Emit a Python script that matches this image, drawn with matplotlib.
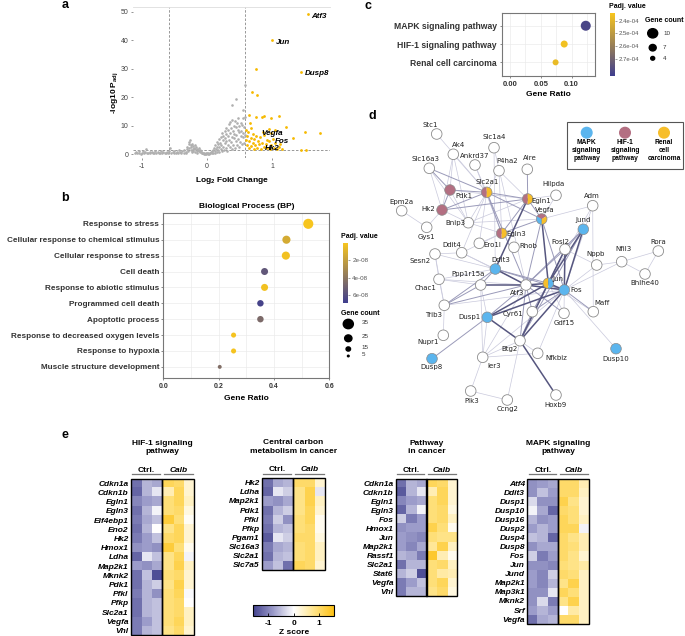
import numpy as np
import matplotlib.pyplot as plt
from matplotlib.colors import LinearSegmentedColormap, Normalize
from matplotlib.patches import Wedge, Rectangle
from matplotlib.lines import Line2D
import matplotlib.cm as cm

W, H = 685, 636
plt.rcParams['font.family'] = ['Liberation Sans', 'DejaVu Sans']

# ---------------- data: volcano (a) ----------------
gray_x = [-1.11, -1.09, -1.07, -1.05, -1.04, -1.02, -1.0, -0.99, -0.97, -0.95, -0.94, -0.92, -0.9, -0.88,
          -0.87, -0.85, -0.83, -0.81, -0.8, -0.78, -0.76, -0.74, -0.72, -0.71, -0.69, -0.67, -0.65, -0.63,
          -0.61, -0.6, -0.58, -0.57, -0.55, -0.53, -0.51, -0.5, -0.48, -0.46, -0.44, -0.43, -0.41, -0.4,
          -0.38, -0.36, -0.35, -0.33, -0.32,
          -0.31, -0.3, -0.29, -0.28, -0.27, -0.27, -0.26, -0.25, -0.25, -0.24, -0.23, -0.23, -0.22, -0.21,
          -0.21, -0.2, -0.19, -0.19, -0.18, -0.17, -0.16, -0.15, -0.15, -0.14, -0.13, -0.12, -0.11, -0.1,
          -0.09, -0.08,
          -0.07, -0.06, -0.05, -0.04, -0.03, -0.02, -0.01, 0.0, 0.01, 0.02, 0.03, 0.04, 0.05, 0.06, 0.07, 0.08,
          0.09, 0.1, 0.11, 0.12, 0.13, 0.13, 0.14, 0.15, 0.15, 0.16, 0.17, 0.17, 0.18, 0.19, 0.19, 0.2, 0.21,
          0.21, 0.22, 0.23, 0.23, 0.24, 0.25, 0.25, 0.26, 0.27, 0.27, 0.28, 0.29, 0.29, 0.3, 0.3, 0.31, 0.32,
          0.32, 0.33, 0.34, 0.34, 0.35, 0.35, 0.36, 0.37, 0.37, 0.38, 0.38, 0.39, 0.4, 0.4, 0.41, 0.41, 0.42,
          0.43, 0.43, 0.44, 0.44, 0.45, 0.46, 0.46, 0.47, 0.48, 0.48, 0.49, 0.5, 0.5, 0.51, 0.52, 0.52, 0.53,
          0.54, 0.54, 0.55, 0.56, 0.56, 0.57, 0.57, 0.58,
          0.38, 0.44, 0.55, 0.58, 0.58]
gray_y = [0.3, 0.6, 0.2, 0.9, 0.4, 0.1, 0.5, 1.1, 0.3, 0.7, 1.6, 0.2, 0.5, 0.8,
          0.3, 0.6, 0.2, 0.4, 0.9, 0.3, 0.6, 0.2, 0.5, 1.0, 0.3, 0.7, 0.2, 0.5,
          0.8, 0.3, 1.2, 2.0, 0.4, 0.7, 0.2, 1.0, 0.5, 0.8, 0.3, 1.3, 0.6, 0.2,
          0.9, 0.4, 1.5, 0.7, 0.3,
          1.8, 2.6, 1.1, 3.4, 4.1, 2.0, 4.8, 3.0, 1.4, 2.4, 3.6, 0.8, 1.9, 2.8,
          1.2, 2.2, 3.1, 0.6, 1.6, 2.5, 1.1, 1.9, 0.5, 1.3, 2.1, 0.9, 1.5, 0.6,
          1.0, 0.4,
          0.2, 0.5, 0.1, 0.3, 0.1, 0.4, 0.1, 0.2, 0.05, 0.3, 0.1, 0.4, 0.2, 0.6, 0.3, 0.9,
          1.5, 0.5, 2.2, 1.0, 3.0, 0.4, 1.8, 4.2, 2.6, 0.8, 3.5, 1.4, 5.2, 2.3, 0.6, 4.0, 6.0,
          1.7, 3.1, 7.2, 0.9, 4.8, 2.5, 6.4, 1.3, 8.0, 3.8, 5.6, 2.0, 7.0, 9.2, 4.4, 1.1, 6.3,
          3.2, 8.6, 10.5, 5.0, 2.4, 7.4, 11.2, 4.1, 9.0, 6.0, 1.6, 12.0, 8.0, 3.3, 10.0, 5.5, 7.0,
          11.5, 2.2, 9.5, 4.6, 6.8, 10.8, 3.0, 8.4, 5.4, 12.5, 7.6, 9.8, 2.5, 4.2, 11.0, 6.2, 8.2,
          3.6, 10.2, 5.8, 7.3, 12.8, 4.0, 9.6, 6.5,
          17.3, 19.2, 15.6, 24.3, 13.0]
up_x = [1.55, 1.0, 1.44, 0.75, 0.69, 0.77, 0.65, 0.76, 0.84, 0.88, 0.98, 1.1, 1.22, 1.51, 1.74, 1.33,
        1.04, 1.45, 1.53, 0.68, 0.66, 0.63, 0.6, 0.61, 0.62, 0.64, 0.65, 0.67, 0.68, 0.7, 0.71, 0.72,
        0.73, 0.74, 0.76, 0.77, 0.79, 0.8, 0.82, 0.83, 0.85, 0.87, 0.88, 0.9, 0.92, 0.93, 0.95, 0.97,
        0.98, 0.99, 1.01, 1.03, 1.05, 1.07, 1.1, 1.12, 0.95, 0.86, 1.15, 0.6]
up_y = [49.0, 40.0, 28.9, 29.8, 21.6, 20.6, 13.7, 12.9, 12.9, 13.3, 12.5, 13.3, 9.6, 7.8, 7.3, 5.7,
        8.4, 1.4, 1.4, 9.0, 11.0, 7.6, 5.0, 3.2, 6.2, 2.0, 4.4, 5.6, 2.8, 7.0, 4.0, 1.8,
        5.2, 3.0, 6.4, 2.2, 4.6, 3.4, 5.8, 1.9, 4.0, 2.6, 6.8, 3.6, 5.0, 2.0, 4.4, 1.6,
        7.4, 3.0, 5.4, 2.2, 4.0, 1.8, 2.6, 3.4, 8.8, 7.8, 1.6, 8.5]
volc_genes = ['Atf3', 'Jun', 'Dusp8', 'Vegfa', 'Fos', 'Hk2']
volc_gx = [1.61, 1.06, 1.51, 0.84, 1.05, 0.89]
volc_gy = [48.3, 39.0, 28.3, 7.3, 4.5, 2.0]

# ---------------- data: GO BP (b) ----------------
bp_terms = ['Response to stress', 'Cellular response to chemical stimulus', 'Cellular response to stress',
            'Cell death', 'Response to abiotic stimulus', 'Programmed cell death', 'Apoptotic process',
            'Response to decreased oxygen levels', 'Response to hypoxia', 'Muscle structure development']
bp_ratio = [0.524, 0.445, 0.443, 0.366, 0.366, 0.351, 0.351, 0.254, 0.254, 0.204]
bp_count = [35, 28, 28, 24, 24, 22, 22, 17, 17, 13]
bp_padj = [0.1e-9, 1.3e-8, 0.2e-8, 5.6e-8, 0.2e-8, 6.6e-8, 4.6e-8, 0.1e-8, 0.1e-8, 4.4e-8]

# ---------------- data: KEGG (c) ----------------
kegg_terms = ['MAPK signaling pathway', 'HIF-1 signaling pathway', 'Renal cell carcinoma']
kegg_ratio = [0.123, 0.088, 0.074]
kegg_count = [10, 7, 6]
kegg_padj = [2.80e-4, 2.36e-4, 2.38e-4]

# ---------------- data: network (d) ----------------
nodes = ['Stc1', 'Ak4', 'Slc1a4', 'Ankrd37', 'P4ha2', 'Aire', 'Slc16a3', 'Pdk1', 'Slc2a1', 'Egln1',
         'Hilpda', 'Epm2a', 'Hk2', 'Adm', 'Vegfa', 'Bnip3', 'Gys1', 'Jund', 'Egln3', 'Ero1l', 'Ddit4',
         'Rhob', 'Fosl2', 'Sesn2', 'Rora', 'Nfil3', 'Nppb', 'Ddit3', 'Bhlhe40', 'Chac1', 'Ppp1r15a',
         'Atf3', 'Jun', 'Fos', 'Trib3', 'Dusp1', 'Cyr61', 'Gdf15', 'Maff', 'Nupr1', 'Btg2', 'Nfkbiz',
         'Dusp10', 'Dusp8', 'Ier3', 'Plk3', 'Ccng2', 'Hoxb9']
node_x = [436.7, 453.3, 494, 475, 499, 527.3, 429.3, 450, 486.7, 527.7, 556, 401.7, 442, 592.7, 541.7,
          468.3, 426.7, 583.3, 501.7, 479.3, 461.7, 514, 565, 435, 658.3, 621.7, 596.7, 495.3, 645,
          439, 480.7, 526, 548.3, 564.3, 444.3, 487.3, 532.3, 564, 593.3, 443.3, 520, 537.7, 616, 432,
          482.7, 470.7, 507.3, 556]
node_y = [134, 154.3, 147.7, 165, 170.7, 169.3, 168.3, 190, 192.3, 199, 195.3, 210.7, 210, 205.7, 219,
          222.7, 227.3, 229.3, 233.3, 243.3, 252.7, 247.3, 249.3, 254, 251, 261.7, 265, 269, 274,
          279.3, 285, 285, 283.3, 290, 305.3, 317.3, 311.7, 313.3, 311.7, 335.3, 340.7, 353.3, 348.7,
          358.7, 357.3, 391, 400, 395]
label_x = [430.7, 458.3, 494, 475, 506.7, 530, 425, 464, 486.7, 541.7, 553.3, 401, 428.3, 592.3, 544.7,
           455, 426.7, 582.7, 516.7, 492.7, 451.7, 528.3, 560, 420, 658.3, 624, 596, 500.7, 645,
           426, 468.3, 516.7, 558.3, 576, 433.3, 470, 513.3, 564, 601.7, 428.3, 509.3, 556, 616, 432,
           494, 471.7, 507.3, 556]
label_y = [125, 145, 137.3, 155.7, 161, 158.3, 159, 195.7, 181.7, 200.7, 184, 201.7, 209, 195.7, 210,
           223.3, 236.7, 220, 234, 245, 245, 246, 241.7, 260.7, 241.7, 249.3, 254.3, 260, 283.3,
           288.3, 274, 292.7, 279.3, 290, 315, 316.7, 314, 322.7, 303.3, 341.7, 349.3, 357.7, 358.7,
           366.7, 366, 401, 409, 405]
node_groups = {'Pdk1': ['hif'], 'Hk2': ['hif'], 'Slc2a1': ['hif', 'renal'], 'Egln1': ['hif', 'renal'],
               'Egln3': ['hif', 'renal'], 'Vegfa': ['mapk', 'hif', 'renal'], 'Jun': ['renal', 'mapk'],
               'Jund': ['mapk'], 'Ddit3': ['mapk'], 'Fos': ['mapk'], 'Dusp1': ['mapk'],
               'Dusp8': ['mapk'], 'Dusp10': ['mapk']}
edges = [('Stc1', 'Slc2a1', 1), ('Ak4', 'Pdk1', 1), ('Ak4', 'Slc2a1', 1), ('Ak4', 'Bnip3', 1), ('Ak4', 'Hk2', 1),
         ('Slc1a4', 'Ddit3', 1), ('Slc1a4', 'Atf3', 1), ('Ankrd37', 'Slc2a1', 1), ('Ankrd37', 'Egln3', 1),
         ('P4ha2', 'Egln1', 1), ('P4ha2', 'Slc2a1', 1), ('P4ha2', 'Egln3', 1), ('Aire', 'Egln1', 2),
         ('Slc16a3', 'Pdk1', 2), ('Slc16a3', 'Hk2', 1), ('Slc16a3', 'Slc2a1', 2), ('Slc16a3', 'Bnip3', 1),
         ('Pdk1', 'Hk2', 2), ('Pdk1', 'Slc2a1', 2), ('Pdk1', 'Bnip3', 1), ('Pdk1', 'Egln1', 1),
         ('Hk2', 'Slc2a1', 2), ('Hk2', 'Gys1', 1), ('Hk2', 'Egln1', 2), ('Hk2', 'Bnip3', 1), ('Epm2a', 'Gys1', 1),
         ('Slc2a1', 'Egln1', 2), ('Slc2a1', 'Vegfa', 2), ('Slc2a1', 'Egln3', 2), ('Slc2a1', 'Bnip3', 1),
         ('Slc2a1', 'Ddit4', 1), ('Slc2a1', 'Ero1l', 1), ('Slc2a1', 'Atf3', 2),
         ('Egln1', 'Egln3', 2), ('Egln1', 'Vegfa', 2), ('Egln1', 'Bnip3', 1), ('Egln1', 'Ddit3', 3),
         ('Egln1', 'Hilpda', 1), ('Vegfa', 'Adm', 1), ('Vegfa', 'Egln3', 2), ('Vegfa', 'Jun', 3),
         ('Vegfa', 'Fos', 2), ('Vegfa', 'Atf3', 2), ('Vegfa', 'Hilpda', 1), ('Vegfa', 'Bnip3', 1),
         ('Adm', 'Maff', 1), ('Adm', 'Jun', 1), ('Adm', 'Fos', 1),
         ('Jund', 'Fos', 3), ('Jund', 'Atf3', 2), ('Jund', 'Jun', 3), ('Jund', 'Fosl2', 2), ('Jund', 'Btg2', 2),
         ('Egln3', 'Bnip3', 1), ('Egln3', 'Ddit4', 1), ('Egln3', 'Ero1l', 1),
         ('Ddit4', 'Sesn2', 1), ('Ddit4', 'Ddit3', 1), ('Ddit4', 'Atf3', 1),
         ('Sesn2', 'Ddit3', 1), ('Sesn2', 'Trib3', 1), ('Sesn2', 'Chac1', 1),
         ('Ddit3', 'Atf3', 3), ('Ddit3', 'Ppp1r15a', 2), ('Ddit3', 'Trib3', 2), ('Ddit3', 'Chac1', 1),
         ('Ddit3', 'Jun', 2), ('Ddit3', 'Fos', 2),
         ('Fosl2', 'Jun', 3), ('Fosl2', 'Fos', 3), ('Fosl2', 'Atf3', 2), ('Fosl2', 'Nppb', 1), ('Fosl2', 'Btg2', 2),
         ('Nppb', 'Nfil3', 1), ('Nppb', 'Fos', 1), ('Nfil3', 'Rora', 1), ('Nfil3', 'Bhlhe40', 1),
         ('Nfil3', 'Fos', 1), ('Rora', 'Bhlhe40', 1),
         ('Atf3', 'Jun', 3), ('Atf3', 'Fos', 3), ('Atf3', 'Ppp1r15a', 3), ('Atf3', 'Chac1', 1), ('Atf3', 'Trib3', 2),
         ('Atf3', 'Btg2', 2), ('Atf3', 'Dusp1', 2), ('Atf3', 'Cyr61', 2), ('Atf3', 'Gdf15', 2), ('Atf3', 'Ier3', 1),
         ('Jun', 'Fos', 3), ('Jun', 'Dusp1', 3), ('Jun', 'Btg2', 3), ('Jun', 'Cyr61', 2), ('Jun', 'Maff', 1),
         ('Jun', 'Gdf15', 1), ('Fos', 'Dusp1', 3), ('Fos', 'Btg2', 3), ('Fos', 'Cyr61', 2), ('Fos', 'Gdf15', 1),
         ('Fos', 'Maff', 2), ('Fos', 'Nfkbiz', 1), ('Fos', 'Ier3', 1), ('Fos', 'Dusp10', 1), ('Fos', 'Trib3', 1),
         ('Trib3', 'Chac1', 1), ('Trib3', 'Nupr1', 1), ('Trib3', 'Ppp1r15a', 2),
         ('Dusp1', 'Dusp8', 2), ('Dusp1', 'Btg2', 3), ('Dusp1', 'Ier3', 1), ('Dusp1', 'Ppp1r15a', 1),
         ('Btg2', 'Hoxb9', 3), ('Btg2', 'Ier3', 1), ('Btg2', 'Nfkbiz', 1), ('Btg2', 'Ccng2', 1), ('Btg2', 'Cyr61', 2),
         ('Ier3', 'Plk3', 1), ('Ier3', 'Nfkbiz', 1), ('Plk3', 'Ccng2', 1), ('Ppp1r15a', 'Chac1', 1),
         ('Ppp1r15a', 'Ier3', 1)]

# ---------------- data: heatmaps (e) ----------------
hif_genes = ['Cdkn1a', 'Cdkn1b', 'Egln1', 'Egln3', 'Eif4ebp1', 'Eno2', 'Hk2', 'Hmox1', 'Ldha', 'Map2k1',
             'Mknk2', 'Pdk1', 'Pfkl', 'Pfkp', 'Slc2a1', 'Vegfa', 'Vhl']
hif_z = [[-1.2, -0.6, -0.7, 1.1, 1.0, 0.3], [-1.3, -0.6, -0.2, 0.5, 1.1, 0.3], [-1.0, -0.8, -0.7, 0.9, 1.1, 0.4],
         [-1.2, -0.6, -0.1, 0.9, 1.0, 0.2], [-1.1, -0.7, -0.5, 1.3, 0.9, 0.05], [-1.2, -0.6, 0.0, 0.8, 1.1, 0.3],
         [-1.1, -0.8, -0.5, 1.0, 1.1, 0.3], [-0.9, -0.8, -0.9, 1.3, 0.9, 0.1], [-1.3, -0.2, -0.5, 0.8, 1.1, -0.1],
         [-0.8, -0.9, -0.7, 0.8, 1.2, 0.4], [-1.2, -0.5, -1.5, 0.9, 1.0, 0.3], [-1.2, -0.6, -0.4, 0.8, 1.2, 0.3],
         [-1.1, -0.6, -0.9, 0.9, 1.1, -0.05], [-1.2, -0.6, -0.5, 0.9, 1.0, 0.0], [-1.2, -0.6, -0.5, 0.9, 1.0, 0.4],
         [-1.1, -0.8, -0.5, 0.9, 1.1, 0.4], [-1.1, -0.6, -0.5, 0.8, 1.0, 0.3]]
ccm_genes = ['Hk2', 'Ldha', 'Map2k1', 'Pdk1', 'Pfkl', 'Pfkp', 'Pgam1', 'Slc16a3', 'Slc2a1', 'Slc7a5']
ccm_z = [[-1.2, -0.7, -0.6, 1.0, 1.0, 0.3], [-1.3, -0.2, -0.4, 0.8, 1.2, -0.2], [-0.8, -0.9, -0.7, 0.8, 1.2, 0.4],
         [-1.2, -0.6, -0.4, 0.8, 1.1, 0.3], [-1.1, -0.4, -0.9, 0.9, 1.1, 0.1], [-1.2, -0.6, -0.5, 0.9, 1.0, 0.1],
         [-1.4, -0.2, -0.4, 1.0, 1.0, 0.2], [-1.1, -0.7, -0.6, 0.9, 1.0, 0.4], [-1.2, -0.6, -0.5, 0.9, 1.0, 0.4],
         [-0.8, -0.5, -1.2, 1.1, 1.0, 0.3]]
pic_genes = ['Cdkn1a', 'Cdkn1b', 'Egln1', 'Egln3', 'Fos', 'Hmox1', 'Jun', 'Map2k1', 'Rassf1', 'Slc2a1',
             'Stat6', 'Vegfa', 'Vhl']
pic_z = [[-1.2, -0.6, -0.7, 1.1, 1.0, 0.3], [-1.4, -0.6, -0.2, 0.5, 1.1, 0.3], [-1.0, -0.8, -0.7, 0.9, 1.1, 0.3],
         [-1.3, -0.6, -0.1, 0.9, 1.0, 0.2], [-0.4, -1.1, -0.8, 0.9, 1.0, 0.4], [-0.9, -0.8, -0.8, 1.2, 0.9, 0.1],
         [-0.8, -0.9, -1.0, 0.9, 0.8, 0.8], [-0.8, -1.0, -0.7, 0.7, 1.2, 0.4], [-0.6, -0.7, -1.1, 1.4, 0.5, 0.1],
         [-1.2, -0.6, -0.6, 0.9, 1.0, 0.4], [-0.6, -0.4, -1.5, 0.9, 0.6, 0.5], [-1.1, -0.8, -0.5, 0.9, 1.1, 0.3],
         [-1.1, -0.6, -0.6, 0.8, 1.0, 0.2]]
mapk_genes = ['Atf4', 'Ddit3', 'Dusp1', 'Dusp10', 'Dusp16', 'Dusp2', 'Dusp4', 'Dusp8', 'Fos', 'Jun', 'Jund',
              'Map2k1', 'Map3k1', 'Mknk2', 'Srf', 'Vegfa']
mapk_z = [[-0.9, -0.8, -0.7, 1.0, 1.0, 0.5], [-0.9, -0.5, -0.8, 1.0, 1.0, 0.4], [-0.3, -0.9, -0.9, 1.2, 0.8, 0.3],
          [-0.1, -0.7, -1.3, 1.0, 0.9, 0.3], [-0.6, -0.9, -0.8, 1.1, 0.9, 0.4], [-0.8, -0.6, -0.8, 1.1, 1.1, -0.1],
          [-0.5, -0.6, -1.3, 1.0, 0.8, 0.5], [-0.9, -0.7, -0.7, 1.0, 0.9, 0.5], [-0.4, -1.1, -0.8, 1.0, 0.8, 0.3],
          [-0.9, -0.9, -1.0, 0.9, 0.8, 0.6], [-0.8, -1.0, -0.4, 1.0, 0.9, 0.4], [-0.8, -1.0, -0.6, 0.8, 1.2, 0.4],
          [-0.9, -0.9, -0.2, 1.1, 0.9, 0.4], [-0.9, -0.3, -1.1, 0.8, 1.2, 0.4], [-0.8, -0.6, -0.8, 0.0, 0.6, 0.4],
          [-1.2, -0.7, -0.6, 1.0, 1.0, 0.4]]


def rect(x0, y0, x1, y1):
    return [x0 / W, 1 - y1 / H, (x1 - x0) / W, (y1 - y0) / H]


def ftext(x, y, s, **kw):
    return fig.text(x / W, 1 - y / H, s, **kw)


def fline(x0, x1, y, **kw):
    fig.add_artist(Line2D([x0 / W, x1 / W], [1 - y / H] * 2, transform=fig.transFigure, **kw))


fig = plt.figure(figsize=(W / 100, H / 100), dpi=100)

go_cmap = LinearSegmentedColormap.from_list('go', ['#F7C51E', '#3E3D8E'])
z_cmap = LinearSegmentedColormap.from_list('z', ['#45448F', '#9C9CCA', '#FFFFFF', '#FFE489', '#FDC012'])

# ================= a: volcano =================
ax = fig.add_axes(rect(133, 7, 330, 158))
ax.scatter(gray_x, gray_y, s=3.5, color='#AFAFAF', lw=0, zorder=2)
ax.scatter(up_x, up_y, s=4, color='#F6B900', lw=0, zorder=3)
for g, gx, gy in zip(volc_genes, volc_gx, volc_gy):
    ax.text(gx, gy, g, fontsize=5.8, fontweight='bold', fontstyle='italic', va='center', ha='left', zorder=4)
for xv in (-0.585, 0.585):
    ax.axvline(xv, color='#888888', lw=0.6, ls=(0, (3, 2)), zorder=1)
ax.axhline(1.3, color='#888888', lw=0.6, ls=(0, (3, 2)), zorder=1)
ax.set_xlim(-1.138, 1.892)
ax.set_ylim(-1.4, 51.6)
ax.set_xticks([-1, 0, 1])
ax.set_xticklabels(['-1', '0', '1'])
ax.set_yticks([0, 10, 20, 30, 40, 50])
ax.tick_params(labelsize=5, length=1.5, width=0.4, colors='#444444', pad=2)
for s in ['left', 'right', 'bottom']:
    ax.spines[s].set_visible(False)
ax.spines['top'].set_color('#DDDDDD')
ax.spines['top'].set_linewidth(0.6)
ftext(231.5, 181, 'Log$_\\mathregular{2}$ Fold Change', fontsize=6, fontweight='bold', ha='center', va='center')
ftext(115, 93, '-log10 P$_\\mathregular{adj}$', fontsize=6, fontweight='bold', ha='center', va='center', rotation=90)

# ================= b: GO BP dot plot =================
bp_norm = Normalize(0, 6.9e-8)
axb = fig.add_axes(rect(163.3, 212.7, 329.3, 378))
rows = np.arange(1, len(bp_terms) + 1)
bp_d = [0.28 * c + 0.3 for c in bp_count]
axb.scatter(bp_ratio, rows, s=[(d * 0.72) ** 2 for d in bp_d], c=bp_padj, cmap=go_cmap, norm=bp_norm,
            lw=0, zorder=3)
axb.set_xlim(0, 0.6)
axb.set_ylim(10.7, 0.3)
axb.set_xticks([0.0, 0.2, 0.4, 0.6])
axb.set_xticklabels(['0.0', '0.2', '0.4', '0.6'], fontweight='bold')
axb.set_xticks([0.1, 0.3, 0.5], minor=True)
axb.set_yticks(rows)
axb.set_yticklabels(bp_terms, fontsize=5.9, fontweight='bold')
axb.tick_params(axis='x', labelsize=5, length=1.5, width=0.4, colors='#333333', pad=2)
axb.tick_params(axis='y', length=1.5, width=0.4, colors='#333333', pad=1.5)
axb.tick_params(which='minor', length=0)
axb.grid(True, which='both', color='#EBEBEB', lw=0.5, zorder=0)
axb.set_axisbelow(True)
for s in axb.spines.values():
    s.set_color('#777777')
    s.set_linewidth(0.8)
ftext(246.3, 206, 'Biological Process (BP)', fontsize=6, fontweight='bold', ha='center', va='center')
ftext(246.3, 398, 'Gene Ratio', fontsize=6, fontweight='bold', ha='center', va='center')

caxb = fig.add_axes(rect(343, 243, 348, 303))
cb = fig.colorbar(cm.ScalarMappable(norm=bp_norm, cmap=go_cmap), cax=caxb)
caxb.invert_yaxis()
cb.set_ticks([2e-8, 4e-8, 6e-8])
cb.set_ticklabels(['2e-08', '4e-08', '6e-08'])
cb.outline.set_visible(False)
caxb.tick_params(labelsize=4.5, length=1.5, width=0.4, colors='#555555', pad=1.5)
ftext(341, 237, 'Padj. value', fontsize=5, fontweight='bold', ha='left', va='center')
ftext(341, 313, 'Gene count', fontsize=5, fontweight='bold', ha='left', va='center')
leg_b = [35, 25, 15, 5]
leg_b_y = [324, 338.3, 349, 356]
for c, yy in zip(leg_b, leg_b_y):
    d = 0.28 * c + 0.3
    fig.add_artist(plt.Circle((348.3 / W, 1 - yy / H), d / 2 / W, transform=fig.transFigure, color='black'))
    ftext(361.7, yy - 1.5, str(c), fontsize=4.5, color='#333333', ha='left', va='center')

# ================= c: KEGG dot plot =================
kg_norm = Normalize(2.343e-4, 2.833e-4)
axc = fig.add_axes(rect(501.7, 13.3, 595, 75.7))
krows = np.arange(1, len(kegg_terms) + 1)
axc.scatter(kegg_ratio, krows, s=[(c * 0.72) ** 2 for c in kegg_count], c=kegg_padj, cmap=go_cmap,
            norm=kg_norm, lw=0, zorder=3)
axc.set_xlim(-0.0135, 0.138)
axc.set_ylim(3.73, 0.32)
axc.set_xticks([0.0, 0.05, 0.10])
axc.set_xticklabels(['0.00', '0.05', '0.10'], fontweight='bold')
axc.set_xticks([0.025, 0.075, 0.125], minor=True)
axc.set_yticks(krows)
axc.set_yticklabels(kegg_terms, fontsize=6.2, fontweight='bold')
axc.tick_params(axis='x', labelsize=5.5, length=1.5, width=0.4, colors='#333333', pad=2)
axc.tick_params(axis='y', length=1.5, width=0.4, colors='#333333', pad=2)
axc.tick_params(which='minor', length=0)
axc.grid(True, which='both', color='#EBEBEB', lw=0.5, zorder=0)
axc.set_axisbelow(True)
for s in axc.spines.values():
    s.set_color('#777777')
    s.set_linewidth(0.8)
ftext(548, 94.3, 'Gene Ratio', fontsize=6, fontweight='bold', ha='center', va='center')

caxc = fig.add_axes(rect(610, 13.3, 615, 76))
cbc = fig.colorbar(cm.ScalarMappable(norm=kg_norm, cmap=go_cmap), cax=caxc)
caxc.invert_yaxis()
cbc.set_ticks([2.4e-4, 2.5e-4, 2.6e-4, 2.7e-4])
cbc.set_ticklabels(['2.4e-04', '2.5e-04', '2.6e-04', '2.7e-04'])
cbc.outline.set_visible(False)
caxc.tick_params(labelsize=4.3, length=1.5, width=0.4, colors='#555555', pad=1.5)
ftext(609, 6, 'Padj. value', fontsize=5, fontweight='bold', ha='left', va='center')
ftext(645, 20.7, 'Gene count', fontsize=5, fontweight='bold', ha='left', va='center')
leg_c = [10, 7, 4]
leg_c_y = [33.3, 47.7, 58.3]
for c, yy in zip(leg_c, leg_c_y):
    fig.add_artist(plt.Circle((652.7 / W, 1 - yy / H), c / 2 / W, transform=fig.transFigure, color='black'))
    ftext(663, yy, str(c), fontsize=4.5, color='#333333', ha='left', va='center')

# ================= d: network =================
grp_col = {'mapk': '#5BB5EE', 'hif': '#B36F82', 'renal': '#F7BE2A'}
edge_style = {1: ('#C9C9DC', 0.5), 2: ('#9A9AB9', 0.7), 3: ('#56567F', 1.1)}
axd = fig.add_axes(rect(390, 115, 690, 415))
axd.set_xlim(390, 690)
axd.set_ylim(415, 115)
axd.axis('off')
pos = {n: (x, y) for n, x, y in zip(nodes, node_x, node_y)}
for a, b, w in sorted(edges, key=lambda e: e[2]):
    col, lw = edge_style[w]
    axd.plot([pos[a][0], pos[b][0]], [pos[a][1], pos[b][1]], color=col, lw=lw, zorder=1,
             solid_capstyle='round')
r = 5.3
for n in nodes:
    x, y = pos[n]
    if n in node_groups:
        gs = node_groups[n]
        step = 360.0 / len(gs)
        for i, g in enumerate(gs):
            axd.add_patch(Wedge((x, y), r, 90 + i * step, 90 + (i + 1) * step, color=grp_col[g], lw=0, zorder=3))
        axd.add_patch(plt.Circle((x, y), r, fill=False, ec='#8C8C8C', lw=0.5, zorder=4))
    else:
        axd.add_patch(plt.Circle((x, y), r, fc='white', ec='#8C8C8C', lw=0.6, zorder=3))
for n, lx, ly in zip(nodes, label_x, label_y):
    axd.text(lx, ly, n, fontsize=5, family='DejaVu Sans', color='#222222', ha='center', va='center', zorder=5)
axd.add_patch(Rectangle((566.7, 121.7), 116.6, 47.6, fill=False, ec='#555555', lw=0.8, zorder=2))
leg_names = ['MAPK\nsignaling\npathway', 'HIF-1\nsignaling\npathway', 'Renal\ncell\ncarcinoma']
for gx, g, nm in zip([586.7, 625, 664], ['mapk', 'hif', 'renal'], leg_names):
    axd.add_patch(plt.Circle((gx, 132.7), 5.3, color=grp_col[g], zorder=3))
    axd.text(gx, 139.5, nm, fontsize=4.8, fontweight='bold', ha='center', va='top', linespacing=1.15, zorder=5)

# ================= e: heatmaps =================


def heat(left, top, width, rowh, genes, z, title):
    n = len(genes)
    axh = fig.add_axes(rect(left, top, left + width, top + rowh * n))
    axh.imshow(np.array(z), cmap=z_cmap, vmin=-1.6, vmax=1.6, aspect='auto', interpolation='nearest')
    axh.set_xticks([])
    axh.set_yticks(range(n))
    axh.set_yticklabels(genes, fontsize=6, fontweight='bold', fontstyle='italic')
    axh.tick_params(length=0, pad=1.5)
    for s in axh.spines.values():
        s.set_visible(False)
    for x0 in (-0.5, 2.5):
        axh.add_patch(Rectangle((x0, -0.5), 3, n, fill=False, ec='black', lw=1.0, clip_on=False))
    half = width / 2
    ftext(left + half / 2, top - 8.5, 'Ctrl.', fontsize=6, fontweight='bold', ha='center', va='center')
    ftext(left + 1.5 * half, top - 8.5, 'Calb', fontsize=6, fontweight='bold', fontstyle='italic',
          ha='center', va='center')
    fline(left + 1.5, left + half - 2.5, top - 4.5, color='#777777', lw=0.9)
    fline(left + half + 1.5, left + width - 1, top - 4.5, color='#777777', lw=0.9)
    ftext(left + half, top - 31, title, fontsize=6, fontweight='bold', ha='center', va='center',
          linespacing=1.25)


heat(130.7, 478.7, 63.3, 9.2, hif_genes, hif_z, 'HIF-1 signaling\npathway')
heat(261.7, 478.0, 63.3, 9.15, ccm_genes, ccm_z, 'Central carbon\nmetabolism in cancer')
heat(395.7, 478.8, 61.6, 9.03, pic_genes, pic_z, 'Pathway\nin cancer')
heat(527.3, 478.8, 62.0, 9.05, mapk_genes, mapk_z, 'MAPK signaling\npathway')

caxe = fig.add_axes(rect(253.3, 605, 334.3, 616))
cbe = fig.colorbar(cm.ScalarMappable(norm=Normalize(-1.6, 1.6), cmap=z_cmap), cax=caxe, orientation='horizontal')
cbe.set_ticks([-1, 0, 1])
cbe.set_ticklabels(['-1', '0', '1'])
cbe.outline.set_linewidth(0.8)
caxe.tick_params(labelsize=6, length=2.5, width=0.6, direction='in', pad=3)
for lbl in caxe.get_xticklabels():
    lbl.set_fontweight('bold')
ftext(294, 632, 'Z score', fontsize=6, fontweight='bold', ha='center', va='center')

# panel letters
for letter, lx, ly in [('a', 65, 5), ('b', 65, 198), ('c', 368, 6), ('d', 372, 116), ('e', 65, 435)]:
    ftext(lx, ly, letter, fontsize=9, fontweight='bold', ha='center', va='center')

fig.savefig('out.png', dpi=100)
